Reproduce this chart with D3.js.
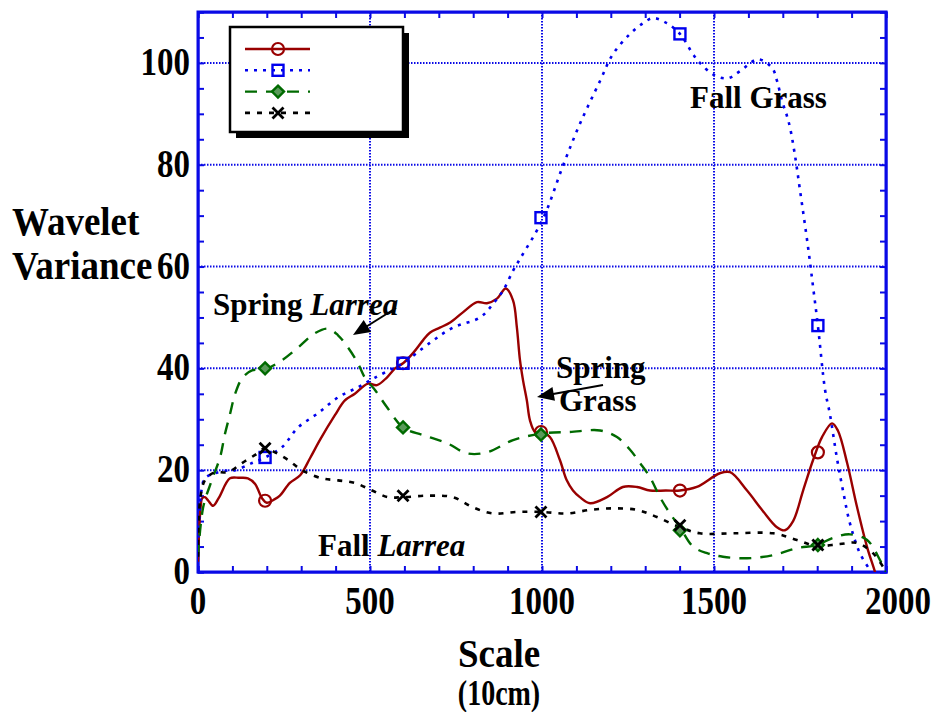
<!DOCTYPE html>
<html><head><meta charset="utf-8">
<script src="https://cdn.jsdelivr.net/npm/d3@7"></script>
<style>html,body{margin:0;padding:0;background:#fff;}svg{display:block;}</style>
</head><body>
<svg id="c" width="932" height="712"></svg>
<script>
// ---- data ----
const xTicks = [0, 500, 1000, 1500, 2000];
const yTicks = [0, 20, 40, 60, 80, 100];

const springGrassX = [0,4,8,12,20,30,44,60,93,120,145,166,186,200,220,238,267,297,326,355,398,427,456,494,520,549,573,596,625,654,674,703,733,770,811,840,869,895,916,927,936,945,956,965,980,1000,1023,1052,1072,1090,1110,1140,1189,1235,1276,1314,1360,1401,1450,1517,1547,1596,1642,1683,1706,1730,1759,1788,1814,1843,1860,1887,1916,1945,1968,1980];
const springGrassY = [2,9,13,14.5,14.7,14,13,14.5,18.4,18.5,18.4,17.3,14.5,13.6,14.2,15,17.5,19,22.4,26,30.8,33.7,35,37,36.7,38.2,40,41,43,45.5,47,48,49,51,53,52.8,53.7,55.7,53.3,48,41.6,37.6,33.7,29.8,27.5,27.5,26.5,22,18,16,14.7,13.5,14.7,16.7,16.7,16,16,16,16.7,19.4,19.6,16,12,8.8,8.2,10,16,22,26.5,29.2,27.8,21.4,12.7,4.9,0,-3];

const fallGrassX = [0,5,10,20,49,93,108,157,195,244,291,349,407,465,515,573,596,674,741,820,858,887,916,936,1003,1061,1110,1169,1206,1256,1294,1323,1363,1401,1439,1459,1503,1541,1576,1628,1669,1683,1698,1712,1721,1735,1750,1773,1788,1802,1823,1837,1857,1875,1895,1924,1953,1965];
const fallGrassY = [5,12,16,18.4,19.4,20,20,21.4,22.5,24.5,28.4,31.2,34.3,36.3,38.2,40.2,41,45,48,50,52.7,55.3,59.2,61.5,69.4,79.8,88,96.5,101.7,105.7,107.8,108.8,107.8,105.7,101.7,100,97.5,97,98.4,100.7,99,96.5,92.5,89.6,87.3,82,75,64,56,48.4,35.7,31,22.5,16,9.6,3.7,0.4,-1];

const springLarreaX = [0,15,40,64,78,93,108,128,157,195,244,291,340,378,407,436,465,485,515,549,596,654,724,782,840,916,1000,1081,1169,1218,1256,1285,1314,1343,1372,1401,1439,1480,1526,1596,1672,1741,1799,1846,1895,1945,1983,2000];
const springLarreaY = [3,12.7,18,22.5,27,31,35,38,39.6,39.8,41.6,44.1,46.9,47.8,46.5,44.1,41,38.2,35.7,32.4,28.4,26.9,25.3,23.3,23.5,25.9,27.2,27.5,27.8,26.5,24,21.4,18.6,14.7,11.5,8.8,5,3.7,3,2.7,3.3,4.7,5.3,6.7,7.4,6.3,2.3,0];

const fallLarreaX = [0,6,20,49,87,128,166,195,224,262,302,360,407,456,506,552,596,674,741,799,858,927,1000,1072,1140,1206,1276,1334,1401,1459,1555,1672,1741,1799,1866,1916,1962,1997];
const fallLarreaY = [3,14,18,19.6,19.6,21.4,23,24.3,23.5,22,20,18.4,18,17.5,16,14.7,14.7,15,14.7,12.7,11.5,11.8,11.8,11.5,12.2,12.5,12.2,10.8,8.8,7.6,7.6,7.6,6.3,5.1,5.5,5.7,3.7,0.4];

const markerX = [195, 596, 997, 1401, 1802];
const springGrassM = [14, 41, 27.5, 16, 23.5];
const fallGrassM = [22.5, 41, 69.6, 105.7, 48.4];
const springLarreaM = [40, 28.4, 27, 8.2, 5.3];
const fallLarreaM = [24.3, 15, 11.8, 9.2, 5.3];

// ---- chart ----
const svg = d3.select("#c");
const L = 198, R = 886, T = 12, B = 572;
const x = d3.scaleLinear().domain([0, 2000]).range([L, R]);
const y = d3.scaleLinear().domain([0, 110]).range([B, T]);
const blue = "#0a0ae6";
const FONT = "'Liberation Serif','Times New Roman',serif";

function txt(g, tx, ty, str, size, sx, sy, anchor) {
  return g.append("text").attr("transform", `translate(${tx},${ty}) scale(${sx},${sy})`)
    .attr("text-anchor", anchor || "start").attr("font-family", FONT).attr("font-weight", "bold")
    .attr("font-size", size).text(str);
}

// grid
const grid = svg.append("g");
[500, 1000, 1500].forEach(v => grid.append("line").attr("x1", x(v)).attr("x2", x(v)).attr("y1", T).attr("y2", B)
  .attr("stroke", blue).attr("stroke-width", 2).attr("stroke-dasharray", "1.5,1.5"));
[20, 40, 60, 80, 100].forEach(v => grid.append("line").attr("x1", L).attr("x2", R).attr("y1", y(v)).attr("y2", y(v))
  .attr("stroke", blue).attr("stroke-width", 2).attr("stroke-dasharray", "1.5,1.5"));

// axes (ticks inward)
const xMinor = d3.range(0, 2001, 100);
const yMinor = d3.range(0, 111, 5);
svg.append("g").attr("transform", `translate(0,${B})`)
  .call(d3.axisBottom(x).tickValues(xMinor).tickSize(-6).tickFormat(""))
  .call(g => g.selectAll("line,path").attr("stroke", blue).attr("stroke-width", 2));
svg.append("g").attr("transform", `translate(0,${T})`)
  .call(d3.axisTop(x).tickValues(xMinor).tickSize(-6).tickFormat(""))
  .call(g => g.selectAll("line,path").attr("stroke", blue).attr("stroke-width", 2));
svg.append("g").attr("transform", `translate(${L},0)`)
  .call(d3.axisLeft(y).tickValues(yMinor).tickSize(-6).tickFormat(""))
  .call(g => g.selectAll("line,path").attr("stroke", blue).attr("stroke-width", 2));
svg.append("g").attr("transform", `translate(${R},0)`)
  .call(d3.axisRight(y).tickValues(yMinor).tickSize(-6).tickFormat(""))
  .call(g => g.selectAll("line,path").attr("stroke", blue).attr("stroke-width", 2));
svg.append("rect").attr("x", L).attr("y", T).attr("width", R - L).attr("height", B - T)
  .attr("fill", "none").attr("stroke", blue).attr("stroke-width", 3);

// tick labels
const tl = svg.append("g");
xTicks.forEach(d => txt(tl, x(d) + (d === 2000 ? 12 : 0), 614, d, 33, 1, 1.2, "middle"));
yTicks.forEach(d => txt(tl, 190, y(d) + 12, d, 33, 1, 1.2, "end"));

// axis titles
const t = svg.append("g");
txt(t, 12, 235, "Wavelet", 37, 1, 1.1);
txt(t, 12, 279, "Variance", 37, 1, 1.1);
txt(t, 499, 667, "Scale", 37, 1, 1.1, "middle");
txt(t, 499, 705, "(10cm)", 28, 1, 1.25, "middle");

// series
svg.append("clipPath").attr("id", "clip").append("rect")
  .attr("x", L).attr("y", T).attr("width", R - L).attr("height", B - T);
const series = [
  { xs: springGrassX, ys: springGrassY, m: springGrassM, color: "#990000", dash: null, w: 2.4, shape: "circle" },
  { xs: fallGrassX, ys: fallGrassY, m: fallGrassM, color: "#0000ee", dash: "3,6", w: 2.6, shape: "square" },
  { xs: springLarreaX, ys: springLarreaY, m: springLarreaM, color: "#006a00", dash: "12,9", w: 2.4, shape: "diamond" },
  { xs: fallLarreaX, ys: fallLarreaY, m: fallLarreaM, color: "#000000", dash: "5,7", w: 2.6, shape: "x" }
];
const line = d3.line().x(d => x(d[0])).y(d => y(d[1])).curve(d3.curveCatmullRom.alpha(0.5));
const plot = svg.append("g").attr("clip-path", "url(#clip)");

function drawMarker(g, shape, cx, cy, color) {
  if (shape === "circle") g.append("circle").attr("cx", cx).attr("cy", cy).attr("r", 6)
    .attr("fill", "none").attr("stroke", color).attr("stroke-width", 2.2);
  else if (shape === "square") g.append("rect").attr("x", cx - 5.5).attr("y", cy - 5.5).attr("width", 11).attr("height", 11)
    .attr("fill", "none").attr("stroke", color).attr("stroke-width", 2.4);
  else if (shape === "diamond") g.append("path").attr("d", `M${cx},${cy - 6}L${cx + 6},${cy}L${cx},${cy + 6}L${cx - 6},${cy}Z`)
    .attr("fill", "#5a9a5a").attr("stroke", color).attr("stroke-width", 2.4);
  else g.append("path").attr("d", `M${cx - 5.5},${cy - 5.5}L${cx + 5.5},${cy + 5.5}M${cx - 5.5},${cy + 5.5}L${cx + 5.5},${cy - 5.5}`)
    .attr("stroke", color).attr("stroke-width", 2.8);
}

series.forEach(s => {
  const pts = s.xs.map((v, i) => [v, s.ys[i]]);
  plot.append("path").datum(pts).attr("d", line).attr("fill", "none")
    .attr("stroke", s.color).attr("stroke-width", s.w).attr("stroke-dasharray", s.dash);
});
series.forEach(s => {
  s.m.forEach((v, i) => drawMarker(plot, s.shape, x(markerX[i]), y(v), s.color));
});

// legend
const lg = svg.append("g");
lg.append("rect").attr("x", 236).attr("y", 33).attr("width", 173).attr("height", 105).attr("fill", "#000");
lg.append("rect").attr("x", 230).attr("y", 27).attr("width", 173).attr("height", 105)
  .attr("fill", "#fff").attr("stroke", "#000").attr("stroke-width", 2.5);
series.forEach((s, i) => {
  const ly = 49 + i * 21.3;
  lg.append("line").attr("x1", 245).attr("x2", 310).attr("y1", ly).attr("y2", ly)
    .attr("stroke", s.color).attr("stroke-width", s.w).attr("stroke-dasharray", s.dash);
  drawMarker(lg, s.shape, 278, ly, s.color);
});

// annotations
const ann = svg.append("g").attr("font-family", FONT).attr("font-weight", "bold").attr("font-size", 31);
const a1 = ann.append("text").attr("x", 213).attr("y", 315);
a1.append("tspan").text("Spring ");
a1.append("tspan").attr("font-style", "italic").text("Larrea");
ann.append("text").attr("x", 556).attr("y", 378).text("Spring");
ann.append("text").attr("x", 559).attr("y", 411).text("Grass");
ann.append("text").attr("x", 690).attr("y", 108).text("Fall Grass");
const a2 = ann.append("text").attr("x", 318).attr("y", 556);
a2.append("tspan").text("Fall ");
a2.append("tspan").attr("font-style", "italic").text("Larrea");

function arrow(x1, y1, x2, y2, len, wid) {
  const a = Math.atan2(y2 - y1, x2 - x1);
  svg.append("line").attr("x1", x1).attr("y1", y1).attr("x2", x2 - Math.cos(a) * len * 0.8).attr("y2", y2 - Math.sin(a) * len * 0.8)
    .attr("stroke", "#000").attr("stroke-width", 2);
  const bx = x2 - Math.cos(a) * len, by = y2 - Math.sin(a) * len;
  const px = -Math.sin(a) * wid, py = Math.cos(a) * wid;
  svg.append("path").attr("d", `M${x2},${y2}L${bx + px},${by + py}L${bx - px},${by - py}Z`).attr("fill", "#000");
}
arrow(396, 308, 353, 335, 17, 7);
arrow(603, 385, 537, 397, 17, 7);
</script>
</body></html>
